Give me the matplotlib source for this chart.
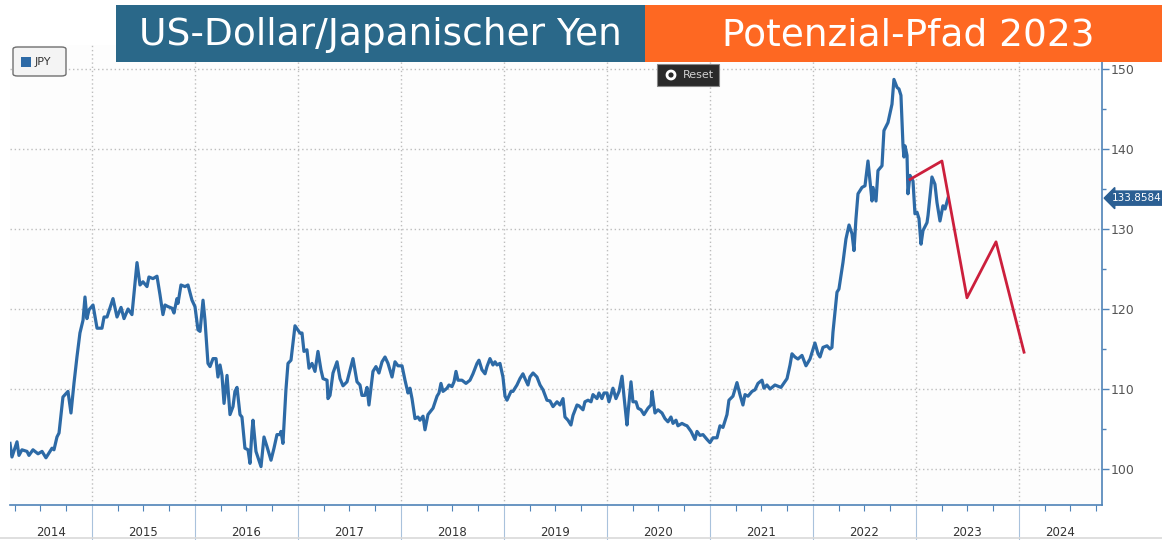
import numpy as np
import matplotlib
matplotlib.use("Agg")
import matplotlib.pyplot as plt
from matplotlib.patches import Rectangle, FancyBboxPatch, Ellipse
from matplotlib import transforms

# USD/JPY (decimal year, rate)
jpyT = [2014.204, 2014.223, 2014.272, 2014.291, 2014.320, 2014.369, 2014.388, 2014.427, 2014.476, 2014.515,
        2014.553, 2014.612, 2014.631, 2014.660, 2014.680, 2014.718, 2014.767, 2014.796, 2014.825, 2014.854,
        2014.883, 2014.913, 2014.932, 2014.951, 2014.971, 2015.010, 2015.049, 2015.097, 2015.117, 2015.146,
        2015.204, 2015.243, 2015.282, 2015.311, 2015.350, 2015.388, 2015.437, 2015.466, 2015.495, 2015.534,
        2015.553, 2015.592, 2015.631, 2015.660, 2015.689, 2015.709, 2015.738, 2015.777, 2015.796, 2015.825,
        2015.835, 2015.864, 2015.903, 2015.932, 2015.971, 2016.000, 2016.029, 2016.049, 2016.078, 2016.097,
        2016.126, 2016.146, 2016.175, 2016.204, 2016.223, 2016.243, 2016.262, 2016.282, 2016.311, 2016.340,
        2016.369, 2016.388, 2016.408, 2016.437, 2016.456, 2016.485, 2016.515, 2016.534, 2016.553, 2016.563,
        2016.592, 2016.641, 2016.670, 2016.699, 2016.738, 2016.767, 2016.796, 2016.825, 2016.835, 2016.854,
        2016.883, 2016.903, 2016.932, 2016.971, 2017.019, 2017.039, 2017.058, 2017.087, 2017.107, 2017.136,
        2017.165, 2017.194, 2017.223, 2017.243, 2017.282, 2017.291, 2017.311, 2017.340, 2017.379, 2017.408,
        2017.437, 2017.476, 2017.534, 2017.573, 2017.602, 2017.621, 2017.650, 2017.670, 2017.689, 2017.728,
        2017.757, 2017.786, 2017.816, 2017.845, 2017.874, 2017.913, 2017.942, 2017.971, 2018.010, 2018.039,
        2018.068, 2018.087, 2018.107, 2018.136, 2018.165, 2018.184, 2018.214, 2018.233, 2018.262, 2018.311,
        2018.350, 2018.369, 2018.388, 2018.408, 2018.447, 2018.466, 2018.495, 2018.515, 2018.534, 2018.553,
        2018.592, 2018.631, 2018.670, 2018.699, 2018.738, 2018.757, 2018.786, 2018.816, 2018.835, 2018.864,
        2018.893, 2018.913, 2018.932, 2018.961, 2018.990, 2019.010, 2019.029, 2019.068, 2019.087, 2019.126,
        2019.155, 2019.184, 2019.204, 2019.233, 2019.252, 2019.282, 2019.320, 2019.350, 2019.379, 2019.417,
        2019.447, 2019.476, 2019.515, 2019.544, 2019.573, 2019.592, 2019.621, 2019.650, 2019.670, 2019.709,
        2019.728, 2019.767, 2019.786, 2019.816, 2019.845, 2019.864, 2019.903, 2019.922, 2019.951, 2019.971,
        2020.000, 2020.019, 2020.058, 2020.087, 2020.117, 2020.146, 2020.165, 2020.194, 2020.204, 2020.233,
        2020.252, 2020.282, 2020.301, 2020.330, 2020.359, 2020.398, 2020.427, 2020.437, 2020.466, 2020.495,
        2020.534, 2020.563, 2020.592, 2020.621, 2020.641, 2020.670, 2020.689, 2020.728, 2020.757, 2020.777,
        2020.816, 2020.835, 2020.854, 2020.874, 2020.903, 2020.932, 2020.971, 2021.000, 2021.029, 2021.068,
        2021.097, 2021.126, 2021.165, 2021.184, 2021.223, 2021.262, 2021.291, 2021.320, 2021.340, 2021.369,
        2021.408, 2021.437, 2021.466, 2021.505, 2021.524, 2021.553, 2021.583, 2021.631, 2021.689, 2021.748,
        2021.777, 2021.796, 2021.825, 2021.854, 2021.893, 2021.932, 2021.971, 2022.019, 2022.049, 2022.068,
        2022.097, 2022.136, 2022.165, 2022.184, 2022.194, 2022.233, 2022.252, 2022.291, 2022.320, 2022.350,
        2022.379, 2022.398, 2022.417, 2022.437, 2022.476, 2022.505, 2022.534, 2022.573, 2022.583, 2022.612,
        2022.631, 2022.670, 2022.689, 2022.728, 2022.757, 2022.767, 2022.786, 2022.816, 2022.835, 2022.854,
        2022.874, 2022.883, 2022.893, 2022.913, 2022.922, 2022.942, 2022.971, 2022.990, 2023.010, 2023.029,
        2023.049, 2023.068, 2023.107, 2023.117, 2023.155, 2023.184, 2023.204, 2023.233, 2023.262, 2023.282,
        2023.311]
jpyV = [103.2, 101.5, 103.4, 101.7, 102.4, 102.2, 101.7, 102.4, 101.9, 102.2,
        101.4, 102.6, 102.4, 104.0, 104.5, 109.0, 109.7, 107.0, 110.7, 114.0,
        117.0, 118.6, 121.5, 118.8, 119.9, 120.5, 117.6, 117.6, 119.0, 119.0,
        121.3, 119.0, 120.2, 118.8, 120.0, 119.3, 125.8, 123.0, 123.4, 122.8,
        124.0, 123.8, 124.1, 121.8, 119.3, 120.5, 120.3, 120.1, 119.5, 121.3,
        120.7, 123.0, 122.8, 123.0, 121.1, 120.3, 117.4, 117.2, 121.1, 118.6,
        113.2, 112.8, 113.8, 113.8, 111.5, 113.0, 111.7, 108.2, 111.7, 106.8,
        107.8, 109.7, 110.2, 106.8, 106.5, 102.6, 102.4, 100.7, 104.7, 106.1,
        102.2, 100.3, 104.0, 102.8, 101.1, 102.6, 104.3, 104.3, 104.7, 103.2,
        109.9, 113.2, 113.6, 117.9, 117.0, 117.0, 114.7, 114.9, 112.6, 113.2,
        112.2, 114.7, 112.4, 111.3, 111.1, 108.8, 109.2, 112.0, 113.4, 111.3,
        110.4, 110.9, 113.8, 110.9, 110.5, 109.2, 109.2, 110.2, 108.0, 112.2,
        112.8, 112.0, 113.4, 114.0, 113.2, 111.5, 113.4, 112.9, 112.9, 111.1,
        109.5, 110.1, 108.8, 106.3, 106.5, 106.1, 106.6, 104.9, 106.8, 107.6,
        109.1, 109.5, 110.7, 109.7, 110.1, 110.5, 110.3, 110.9, 112.2, 111.1,
        111.1, 110.7, 111.1, 111.9, 113.2, 113.6, 112.4, 111.9, 112.8, 113.8,
        113.0, 113.4, 113.0, 113.2, 111.5, 109.1, 108.6, 109.7, 109.7, 110.5,
        111.3, 111.9, 111.3, 110.5, 111.5, 112.0, 111.5, 110.5, 109.9, 108.6,
        108.5, 107.8, 108.4, 108.0, 108.8, 106.5, 106.1, 105.5, 106.7, 108.0,
        107.9, 107.4, 108.4, 108.6, 108.4, 109.3, 108.8, 109.5, 108.8, 109.5,
        109.5, 108.4, 110.1, 108.8, 109.7, 111.6, 109.1, 105.5, 107.0, 110.9,
        108.4, 108.4, 107.6, 107.4, 106.8, 107.6, 108.0, 109.7, 107.0, 107.4,
        107.0, 106.3, 105.9, 106.5, 105.7, 106.1, 105.4, 105.7, 105.5, 105.4,
        104.7, 104.2, 103.7, 104.7, 104.2, 104.3, 103.7, 103.3, 103.9, 103.9,
        105.4, 105.2, 106.8, 108.6, 109.1, 110.8, 109.3, 108.0, 109.3, 109.1,
        109.7, 109.9, 110.7, 111.1, 110.1, 110.5, 110.0, 110.5, 110.2, 111.3,
        113.0, 114.4, 114.0, 113.75, 114.2, 112.9, 113.75, 115.75, 114.4, 114.0,
        115.2, 115.4, 115.0, 115.2, 117.1, 122.1, 122.5, 125.8, 128.75, 130.5,
        129.4, 127.3, 131.25, 134.4, 135.2, 135.4, 138.5, 133.5, 135.2, 133.5,
        137.3, 137.9, 142.3, 143.3, 145.0, 145.6, 148.7, 147.7, 147.5, 146.7,
        140.4, 139.0, 140.4, 139.2, 134.4, 136.7, 136.0, 131.9, 132.1, 131.3,
        128.1, 129.8, 130.8, 131.7, 136.5, 135.6, 133.3, 131.0, 132.9, 132.5,
        133.86]

# potential path 2023
pathT = [2022.942, 2023.252, 2023.495, 2023.777, 2024.049]
pathV = [136.2, 138.5, 121.4, 128.4, 114.6]

lastValue = "133.8584"
years = list(range(2014, 2025))
yTicks = [100, 110, 120, 130, 140, 150]
titleLeft = "US-Dollar/Japanischer Yen"
titleRight = "Potenzial-Pfad 2023"

W, H = 1162, 540
xMin, xMax = 2014.204, 2024.806

blue = '#2d6aa6'
axisBlue = '#4f83b8'

def fx(x):
    return x / W

def fy(y):
    return 1 - y / H

fig = plt.figure(figsize=(W / 100, H / 100), dpi=100)
fig.patch.set_facecolor('white')

ax = fig.add_axes([fx(10), fy(505), (1102 - 10) / W, (505 - 45) / H])
ax.set_facecolor('#fdfdfd')

ax.plot(jpyT, jpyV, color=blue, lw=2.3, solid_joinstyle='round', zorder=3)
ax.plot(pathT, pathV, color='#cc1f3c', lw=2.0, solid_joinstyle='round', zorder=4)

ax.set_xlim(xMin, xMax)
ax.set_ylim(95.5, 153.0)

# right axis
ax.yaxis.tick_right()
ax.set_yticks(yTicks)
ax.set_yticks(np.arange(105, 150, 10), minor=True)
ax.tick_params(axis='y', which='major', length=5, width=1, color=axisBlue,
               labelsize=9, labelcolor='#555555', pad=1)
ax.tick_params(axis='y', which='minor', length=3, width=1, color=axisBlue)

# x axis: year separators and quarter marks, labels in the middle of each year
ax.set_xticks(years[1:])
ax.set_xticklabels([])
ax.set_xticks([y + q for y in years for q in (0.25, 0.5, 0.75) if xMin < y + q < xMax], minor=True)
ax.tick_params(axis='x', which='major', length=25, width=0.8, color='#a9c2dc', direction='out')
ax.tick_params(axis='x', which='minor', length=4, width=0.8, color=axisBlue, direction='out')

trans = transforms.blended_transform_factory(ax.transData, ax.transAxes)
for y in years:
    a = max(y, xMin)
    b = min(y + 1, xMax)
    ax.text((a + b) / 2, -0.06, str(y), transform=trans, ha='center', va='center',
            fontsize=8.5, color='#333333', family=['Liberation Sans Narrow', 'DejaVu Sans'])

ax.grid(True, which='major', color='#bdbdbd', linestyle=(0, (1, 2)), lw=1.0)

for s in ['top', 'left']:
    ax.spines[s].set_visible(False)
for s in ['right', 'bottom']:
    ax.spines[s].set_color(axisBlue)
    ax.spines[s].set_linewidth(1.2)

# last value badge
tb = transforms.blended_transform_factory(ax.transAxes, ax.transData)
ax.text(1.009, jpyV[-1], lastValue, transform=tb, ha='left', va='center', fontsize=7.5,
        color='white', clip_on=False, family=['Liberation Sans Narrow', 'DejaVu Sans'],
        bbox=dict(boxstyle='larrow,pad=0.2', fc='#2b5f93', ec='#2b5f93'))

# title boxes
fig.patches.append(Rectangle((fx(116), fy(62)), (645 - 116) / W, 57 / H, transform=fig.transFigure,
                             fc='#2a6889', ec='none', zorder=5))
fig.patches.append(Rectangle((fx(645), fy(62)), (1162 - 645) / W, 57 / H, transform=fig.transFigure,
                             fc='#fe6822', ec='none', zorder=5))
fig.text(fx(380), fy(35), titleLeft, color='white', fontsize=27, ha='center', va='center', zorder=6)
fig.text(fx(908), fy(35), titleRight, color='white', fontsize=27, ha='center', va='center', zorder=6)

# legend chip
fig.patches.append(FancyBboxPatch((fx(13), fy(76)), 53 / W, 29 / H, boxstyle='round,pad=0,rounding_size=0.004',
                                  transform=fig.transFigure, fc='#f4f4f4', ec='#6f6f6f', lw=1.0, zorder=5))
fig.patches.append(Rectangle((fx(21), fy(67)), 10 / W, 10 / H, transform=fig.transFigure,
                             fc=blue, ec='none', zorder=6))
fig.text(fx(35), fy(62), "JPY", fontsize=8, color='#333333', ha='left', va='center', zorder=6)

# reset button
fig.patches.append(Rectangle((fx(657), fy(86)), 62 / W, 22 / H, transform=fig.transFigure,
                             fc='#2a2a2a', ec='#888888', lw=0.8, zorder=5))
fig.patches.append(Ellipse((fx(671), fy(75)), 8 / W, 8 / H, transform=fig.transFigure,
                           fc='#2a2a2a', ec='white', lw=2.0, zorder=6))
fig.text(fx(683), fy(75), "Reset", fontsize=8, color='#d0d0d0', ha='left', va='center', zorder=6)

# thin bottom line
fig.add_artist(plt.Line2D([0, 1], [fy(538), fy(538)], color='#d9d9d9', lw=1.2))

fig.savefig('out.png', dpi=100)
